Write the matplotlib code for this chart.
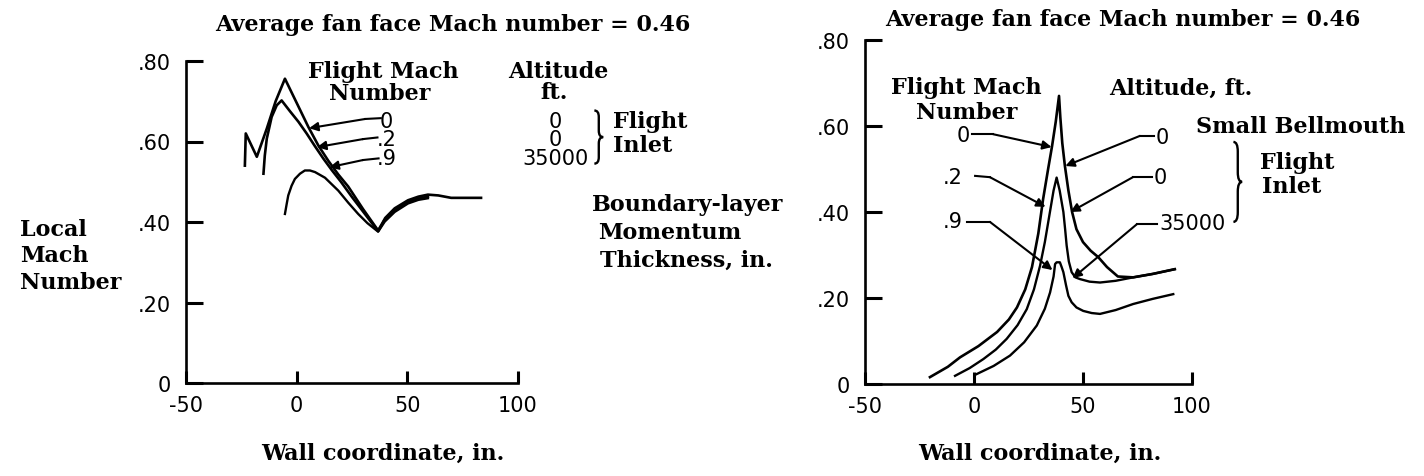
import matplotlib
matplotlib.use("Agg")
import matplotlib.pyplot as plt
from matplotlib.path import Path
from matplotlib.patches import PathPatch

W, H = 1424, 477

# ---- data ----
# left panel: local Mach number along the wall, flight inlet
left_x0 = [-23.4, -23.0, -18.0, -13.5, -9.5, -5.3, 0.0, 5.3, 9.8, 14.3, 18.8, 23.3, 30.0, 36.8,
           38.5, 40.0, 44.3, 50.3, 55.0, 59.3, 64.0, 69.8, 76.0, 83.3]
left_m0 = [0.54, 0.62, 0.562, 0.632, 0.70, 0.756, 0.696, 0.636, 0.59, 0.552, 0.518, 0.488, 0.432, 0.379,
           0.395, 0.41, 0.434, 0.454, 0.463, 0.468, 0.466, 0.46, 0.46, 0.46]
left_x2 = [-15.0, -14.4, -13.5, -11.3, -9.0, -6.8, -3.0, 0.8, 4.5, 8.3, 12.0, 16.0, 20.0, 25.0,
           30.0, 36.8, 39.5, 44.0, 50.0, 55.0, 59.3]
left_m2 = [0.52, 0.565, 0.607, 0.661, 0.69, 0.702, 0.675, 0.649, 0.62, 0.588, 0.558, 0.528, 0.500, 0.462,
           0.426, 0.377, 0.403, 0.428, 0.449, 0.458, 0.463]
left_x9 = [-5.3, -4.5, -3.8, -2.3, -0.8, 1.5, 3.7, 6.0, 8.3, 12.8, 18.8, 23.3, 27.8, 32.0, 36.8,
           39.8, 44.3, 50.3, 55.0, 59.3]
left_m9 = [0.42, 0.445, 0.466, 0.49, 0.507, 0.52, 0.528, 0.528, 0.524, 0.51, 0.478, 0.448, 0.42, 0.397, 0.376,
           0.401, 0.425, 0.446, 0.455, 0.459]

# right panel: small bellmouth
right_x0 = [-20.2, -12.0, -6.4, 2.0, 10.6, 16.0, 19.7, 23.5, 26.6, 29.5, 31.7, 34.0, 35.8, 37.5, 39.0,
            39.6, 40.5, 41.7, 43.3, 45.0, 47.0, 50.0, 53.5, 57.0, 61.0, 66.0, 73.0, 82.0, 92.0]
right_m0 = [0.016, 0.04, 0.062, 0.088, 0.121, 0.15, 0.178, 0.22, 0.272, 0.35, 0.43, 0.50, 0.553, 0.61, 0.67,
            0.62, 0.56, 0.507, 0.45, 0.40, 0.36, 0.33, 0.31, 0.295, 0.272, 0.25, 0.248, 0.256, 0.267]
right_x2 = [-8.7, -2.0, 4.3, 10.0, 15.0, 20.0, 24.2, 27.5, 30.3, 32.5, 34.5, 36.5, 37.9,
            39.3, 41.0, 41.8, 42.5, 43.5, 44.8, 46.5, 48.6, 53.0, 57.8, 65.0, 73.0, 82.0, 92.2]
right_m2 = [0.019, 0.037, 0.058, 0.08, 0.105, 0.137, 0.174, 0.22, 0.275, 0.33, 0.39, 0.45, 0.48,
            0.45, 0.40, 0.36, 0.322, 0.285, 0.26, 0.248, 0.244, 0.238, 0.236, 0.24, 0.248, 0.256, 0.267]
right_x9 = [1.2, 9.0, 16.5, 23.0, 28.8, 32.5, 34.9, 36.5, 37.2, 37.9, 39.4, 40.2, 41.0, 42.2, 43.3,
            44.8, 47.0, 50.1, 54.0, 57.8, 65.0, 73.0, 82.0, 91.4]
right_m9 = [0.023, 0.042, 0.066, 0.097, 0.136, 0.175, 0.213, 0.25, 0.279, 0.283, 0.283, 0.272, 0.26, 0.23, 0.205,
            0.19, 0.178, 0.17, 0.165, 0.163, 0.172, 0.186, 0.198, 0.209]

xticks = [-50, 0, 50, 100]
xtick_labels = ["-50", "0", "50", "100"]
yticks = [0, 0.2, 0.4, 0.6, 0.8]
ytick_labels = ["0", ".20", ".40", ".60", ".80"]

flight_mach = ["0", ".2", ".9"]
altitude = ["0", "0", "35000"]

SERIF = dict(family="DejaVu Serif", fontweight="bold", fontsize=16)
NUM = dict(family="DejaVu Sans", fontsize=15)


def fx(x):
    return x / W


def fy(y):
    return 1 - y / H


def style_axes(ax):
    ax.set_xlim(-50, 100)
    ax.set_ylim(0, 0.8)
    for s in ["top", "right"]:
        ax.spines[s].set_visible(False)
    for s in ["left", "bottom"]:
        ax.spines[s].set_linewidth(1.9)
    ax.set_xticks(xticks)
    ax.set_xticklabels(xtick_labels)
    ax.set_yticks(yticks)
    ax.set_yticklabels(ytick_labels)
    ax.tick_params(axis="x", direction="in", length=9, width=2.2, labelsize=15, pad=9)
    ax.tick_params(axis="y", direction="in", length=12, width=2.2, labelsize=15, pad=11)
    for lab in ax.get_xticklabels() + ax.get_yticklabels():
        lab.set_family("DejaVu Sans")


def brace(ax, x, y0, y1, w):
    ym = (y0 + y1) / 2
    q = (y1 - y0) * 0.12
    verts = [(x, y1), (x + w / 2, y1), (x + w / 2, y1 - q), (x + w / 2, ym + q),
             (x + w / 2, ym), (x + w, ym), (x + w / 2, ym), (x + w / 2, ym - q),
             (x + w / 2, y0 + q), (x + w / 2, y0), (x, y0)]
    codes = [Path.MOVETO, Path.CURVE3, Path.CURVE3, Path.LINETO,
             Path.CURVE3, Path.CURVE3, Path.CURVE3, Path.CURVE3,
             Path.LINETO, Path.CURVE3, Path.CURVE3]
    ax.add_patch(PathPatch(Path(verts, codes), fill=False, lw=1.7, clip_on=False))


def pointer(ax, pts):
    # label leader: short horizontal run then an arrow onto the curve
    xs = [p[0] for p in pts]
    ys = [p[1] for p in pts]
    ax.plot(xs[:-1], ys[:-1], color="black", lw=1.5, clip_on=False)
    ax.annotate("", xy=pts[-1], xytext=pts[-2],
                arrowprops=dict(arrowstyle="-|>", color="black", lw=1.5,
                                mutation_scale=13, shrinkA=0, shrinkB=0),
                annotation_clip=False)


fig = plt.figure(figsize=(W / 100, H / 100), dpi=100)

# ---------------- left panel ----------------
axL = fig.add_axes([fx(186), fy(384), fx(518 - 186), (384 - 62) / H])
style_axes(axL)
axL.plot(left_x0, left_m0, color="black", lw=1.9)
axL.plot(left_x2, left_m2, color="black", lw=1.9)
axL.plot(left_x9, left_m9, color="black", lw=1.7)

axL.text(39, 0.776, "Flight Mach", ha="center", va="center", **SERIF)
axL.text(37.5, 0.72, "Number", ha="center", va="center", **SERIF)
axL.text(118, 0.776, "Altitude", ha="center", va="center", **SERIF)
axL.text(116.5, 0.724, "ft.", ha="center", va="center", **SERIF)
mach_y = [0.652, 0.607, 0.56]
for lab, alt, yy in zip(flight_mach, altitude, mach_y):
    axL.text(40.5, yy, lab, ha="center", va="center", **NUM)
    axL.text(117, yy, alt, ha="center", va="center", **NUM)
pointer(axL, [(38.0, 0.658), (31, 0.656), (5.6, 0.633)])
pointer(axL, [(36.5, 0.610), (30, 0.606), (9.2, 0.586)])
pointer(axL, [(37.0, 0.558), (30, 0.554), (14.8, 0.536)])
brace(axL, 134.5, 0.545, 0.677, 4)
axL.text(143, 0.652, "Flight", ha="left", va="center", **SERIF)
axL.text(143, 0.592, "Inlet", ha="left", va="center", **SERIF)

# ---------------- right panel ----------------
axR = fig.add_axes([fx(865), fy(385), fx(1192 - 865), (385 - 41) / H])
style_axes(axR)
axR.plot(right_x0, right_m0, color="black", lw=1.9)
axR.plot(right_x2, right_m2, color="black", lw=1.7)
axR.plot(right_x9, right_m9, color="black", lw=1.7)

axR.text(-3.7, 0.69, "Flight Mach", ha="center", va="center", **SERIF)
axR.text(-3.3, 0.632, "Number", ha="center", va="center", **SERIF)
axR.text(95, 0.69, "Altitude, ft.", ha="center", va="center", **SERIF)
axR.text(102, 0.60, "Small Bellmouth", ha="left", va="center", **SERIF)
axR.text(-5, 0.578, flight_mach[0], ha="center", va="center", **NUM)
axR.text(-9.6, 0.482, flight_mach[1], ha="center", va="center", **NUM)
axR.text(-9.6, 0.378, flight_mach[2], ha="center", va="center", **NUM)
pointer(axR, [(-1.0, 0.581), (8.7, 0.581), (35.6, 0.551)])
pointer(axR, [(0.5, 0.484), (7.3, 0.481), (32.8, 0.412)])
pointer(axR, [(-3.2, 0.377), (7.3, 0.377), (36.0, 0.265)])
axR.text(83.5, 0.575, altitude[0], ha="left", va="center", **NUM)
axR.text(82.5, 0.481, altitude[1], ha="left", va="center", **NUM)
axR.text(85.0, 0.375, altitude[2], ha="left", va="center", **NUM)
pointer(axR, [(82.5, 0.577), (76.1, 0.577), (41.9, 0.507)])
pointer(axR, [(81.5, 0.481), (72.9, 0.481), (44.2, 0.40)])
pointer(axR, [(84.0, 0.372), (74.8, 0.372), (45.2, 0.246)])
brace(axR, 119, 0.377, 0.563, 4)
axR.text(131, 0.516, "Flight", ha="left", va="center", **SERIF)
axR.text(132, 0.46, "Inlet", ha="left", va="center", **SERIF)

# ---------------- figure texts ----------------
fig.text(fx(215), fy(25), "Average fan face Mach number = 0.46", ha="left", va="center", **SERIF)
fig.text(fx(885), fy(20), "Average fan face Mach number = 0.46", ha="left", va="center", **SERIF)
for s, yy in zip(["Local", "Mach", "Number"], [230, 256, 283]):
    fig.text(fx(20), fy(yy), s, ha="left", va="center", **SERIF)
fig.text(fx(592), fy(205), "Boundary-layer", ha="left", va="center", **SERIF)
fig.text(fx(598), fy(233), "Momentum", ha="left", va="center", **SERIF)
fig.text(fx(600), fy(261), "Thickness, in.", ha="left", va="center", **SERIF)
fig.text(fx(383), fy(454), "Wall coordinate, in.", ha="center", va="center", **SERIF)
fig.text(fx(1040), fy(454), "Wall coordinate, in.", ha="center", va="center", **SERIF)

fig.savefig("out.png", dpi=100)
